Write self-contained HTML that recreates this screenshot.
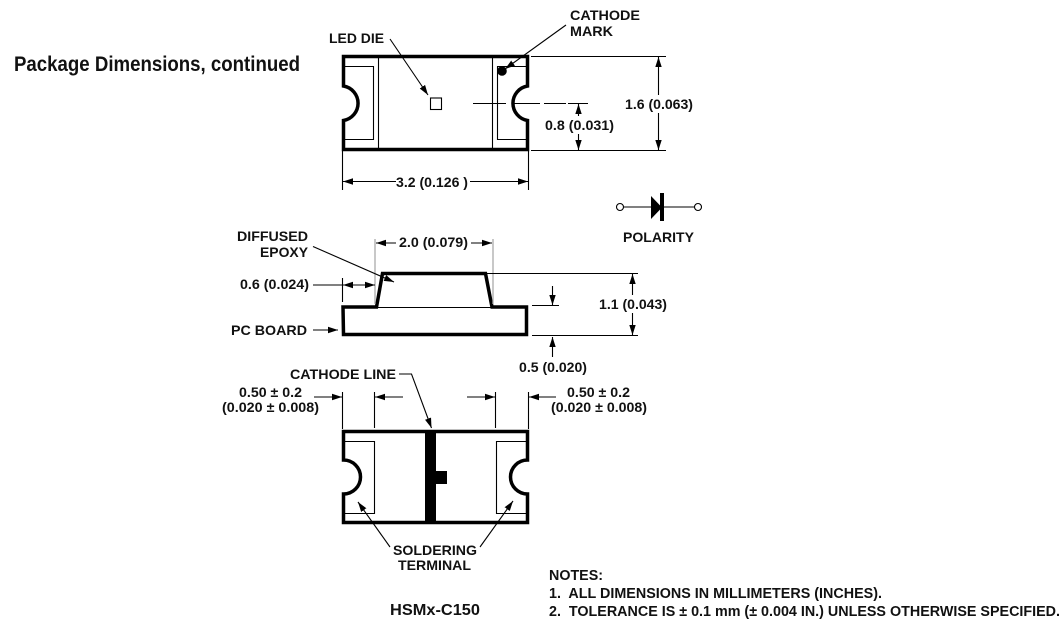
<!DOCTYPE html>
<html><head><meta charset="utf-8"><style>
html,body{margin:0;padding:0;background:#fff;width:1064px;height:635px;overflow:hidden}
svg{display:block}
text{font-family:"Liberation Sans",sans-serif;font-weight:bold;font-size:14px;fill:#111;stroke:none}
.h{stroke:#000;stroke-width:3.5;fill:none}
.t{stroke:#000;stroke-width:1.1;fill:none}
.g{stroke:#aaa;stroke-width:1.3;fill:none}
.a{fill:#000;stroke:none}
</style></head><body>
<svg width="1064" height="635" viewBox="0 0 1064 635" xmlns="http://www.w3.org/2000/svg">
<defs>
<marker id="e" markerUnits="userSpaceOnUse" markerWidth="12" markerHeight="8" refX="10" refY="4" orient="auto"><path d="M0 0.8L10 4L0 7.2Z" fill="#000"/></marker>
<marker id="s" markerUnits="userSpaceOnUse" markerWidth="12" markerHeight="8" refX="1" refY="4" orient="auto"><path d="M11 0.8L1 4L11 7.2Z" fill="#000"/></marker>
</defs>
<text x="14" y="71" style="font-size:21px" textLength="286" lengthAdjust="spacingAndGlyphs">Package Dimensions, continued</text>

<!-- top package -->
<path class="h" d="M343.500 56.500H527.500V86A17.500 17.500 0 0 0 527.500 120.500V149.500H343.500V120.500A17.500 17.500 0 0 0 343.500 86Z"/>
<path class="t" d="M378.500 57V149M492.500 57V149M344 66.500H373.500V139.500H344M527 66.500H497.500V139.500H527"/>
<rect class="t" x="430.500" y="98" width="11" height="11.500"/>
<circle cx="502" cy="71" r="4.800" fill="#000"/>
<path class="t" d="M473 103.500H506M512 103.500H540M544 103.500H566M568 103.500H588"/>
<path class="t" d="M390 39L428 95" marker-end="url(#e)"/>
<path class="t" d="M566 25L505 69" marker-end="url(#e)"/>
<path class="t" d="M531 56.500H666M531 150.500H666"/>
<path class="t" d="M658.500 57V95M658.500 113V150" marker-start="url(#s)" marker-end="url(#e)"/>
<path class="t" d="M578.500 104V116" marker-start="url(#s)"/>
<path class="t" d="M578.500 134V150" marker-end="url(#e)"/>
<path class="t" d="M342.500 151V190M528.500 151V190"/>
<path class="t" d="M343 181.500H396" marker-start="url(#s)"/>
<path class="t" d="M470 181.500H528" marker-end="url(#e)"/>

<!-- polarity -->
<circle class="t" cx="620" cy="207" r="3.500"/><circle class="t" cx="698" cy="207" r="3.500"/>
<path class="t" d="M624 207H694"/>
<path class="a" d="M651 196V219L662 207.500Z"/><rect class="a" x="660" y="193" width="4" height="28"/>

<!-- middle -->
<path class="h" d="M343 307H376.500L382.500 273.500H485.500L492 307H526.500V334.500H343.500Z"/>
<path class="t" d="M377 307.500H491"/>
<path class="g" d="M375 239V304M493 239V304"/>
<path class="t" d="M486 273.500H638M532 305.500H559M532 335.500H638M342.500 278V302"/>
<path class="t" d="M376 243H396" marker-start="url(#s)"/>
<path class="t" d="M471 243H492" marker-end="url(#e)"/>
<path class="t" d="M343 285H375" marker-start="url(#s)" marker-end="url(#e)"/>
<path class="t" d="M313 285H342"/>
<path class="t" d="M313 330H338" marker-end="url(#e)"/>
<path class="t" d="M313 246.500L394 282" marker-end="url(#e)"/>
<path class="t" d="M552.500 286V305" marker-end="url(#e)"/>
<path class="t" d="M552.500 357V337" marker-end="url(#e)"/>
<path class="t" d="M632.500 274V295" marker-start="url(#s)"/>
<path class="t" d="M632.500 313V335" marker-end="url(#e)"/>

<!-- bottom package -->
<path class="h" d="M343.500 431.500H527.500V460A17 17 0 0 0 527.500 494V522.500H343.500V494A17 17 0 0 0 343.500 460Z"/>
<path class="t" d="M344 441.500H374.500V513.500H344M527 441.500H496.500V513.500H527"/>
<rect class="a" x="425" y="431" width="11" height="92"/>
<rect class="a" x="436" y="471" width="11" height="13"/>
<path class="t" d="M342.500 392V429M374.500 392V428M495.500 392V428M528.500 392V429"/>
<path class="t" d="M314 397H342" marker-end="url(#e)"/>
<path class="t" d="M403 397H375" marker-end="url(#e)"/>
<path class="t" d="M467 397H495" marker-end="url(#e)"/>
<path class="t" d="M556 397H529" marker-end="url(#e)"/>
<path class="t" d="M399 374H411.500L431.500 428" marker-end="url(#e)"/>
<path class="t" d="M390 547L358 502" marker-end="url(#e)"/>
<path class="t" d="M480 547L513 501" marker-end="url(#e)"/>

<!-- labels -->
<text x="570" y="20" textLength="70" lengthAdjust="spacingAndGlyphs">CATHODE</text>
<text x="570" y="36" textLength="43" lengthAdjust="spacingAndGlyphs">MARK</text>
<text x="329" y="43" textLength="55" lengthAdjust="spacingAndGlyphs">LED DIE</text>
<text x="625" y="109" textLength="68" lengthAdjust="spacingAndGlyphs">1.6 (0.063)</text>
<text x="545" y="130" textLength="69" lengthAdjust="spacingAndGlyphs">0.8 (0.031)</text>
<text x="396" y="187" textLength="72" lengthAdjust="spacingAndGlyphs">3.2 (0.126 )</text>
<text x="623" y="242" textLength="71" lengthAdjust="spacingAndGlyphs">POLARITY</text>
<text x="237" y="241" textLength="71" lengthAdjust="spacingAndGlyphs">DIFFUSED</text>
<text x="260" y="257" textLength="48" lengthAdjust="spacingAndGlyphs">EPOXY</text>
<text x="399" y="247" textLength="69" lengthAdjust="spacingAndGlyphs">2.0 (0.079)</text>
<text x="240" y="289" textLength="69" lengthAdjust="spacingAndGlyphs">0.6 (0.024)</text>
<text x="599" y="309" textLength="68" lengthAdjust="spacingAndGlyphs">1.1 (0.043)</text>
<text x="231" y="335" textLength="76" lengthAdjust="spacingAndGlyphs">PC BOARD</text>
<text x="519" y="372" textLength="68" lengthAdjust="spacingAndGlyphs">0.5 (0.020)</text>
<text x="290" y="379" textLength="106" lengthAdjust="spacingAndGlyphs">CATHODE LINE</text>
<text x="239" y="397" textLength="63" lengthAdjust="spacingAndGlyphs">0.50 ± 0.2</text>
<text x="222" y="412" textLength="97" lengthAdjust="spacingAndGlyphs">(0.020 ± 0.008)</text>
<text x="567" y="397" textLength="63" lengthAdjust="spacingAndGlyphs">0.50 ± 0.2</text>
<text x="551" y="412" textLength="96" lengthAdjust="spacingAndGlyphs">(0.020 ± 0.008)</text>
<text x="393" y="555" textLength="84" lengthAdjust="spacingAndGlyphs">SOLDERING</text>
<text x="398" y="570" textLength="73" lengthAdjust="spacingAndGlyphs">TERMINAL</text>
<text x="549" y="580" style="font-size:14.5px" textLength="54" lengthAdjust="spacingAndGlyphs">NOTES:</text>
<text x="549" y="598" style="font-size:14.5px" textLength="333" lengthAdjust="spacingAndGlyphs" xml:space="preserve">1.  ALL DIMENSIONS IN MILLIMETERS (INCHES).</text>
<text x="549" y="616" style="font-size:14.5px" textLength="511" lengthAdjust="spacingAndGlyphs" xml:space="preserve">2.  TOLERANCE IS ± 0.1 mm (± 0.004 IN.) UNLESS OTHERWISE SPECIFIED.</text>
<text x="390" y="615" style="font-size:16px" textLength="90" lengthAdjust="spacingAndGlyphs">HSMx-C150</text>
</svg>
</body></html>
